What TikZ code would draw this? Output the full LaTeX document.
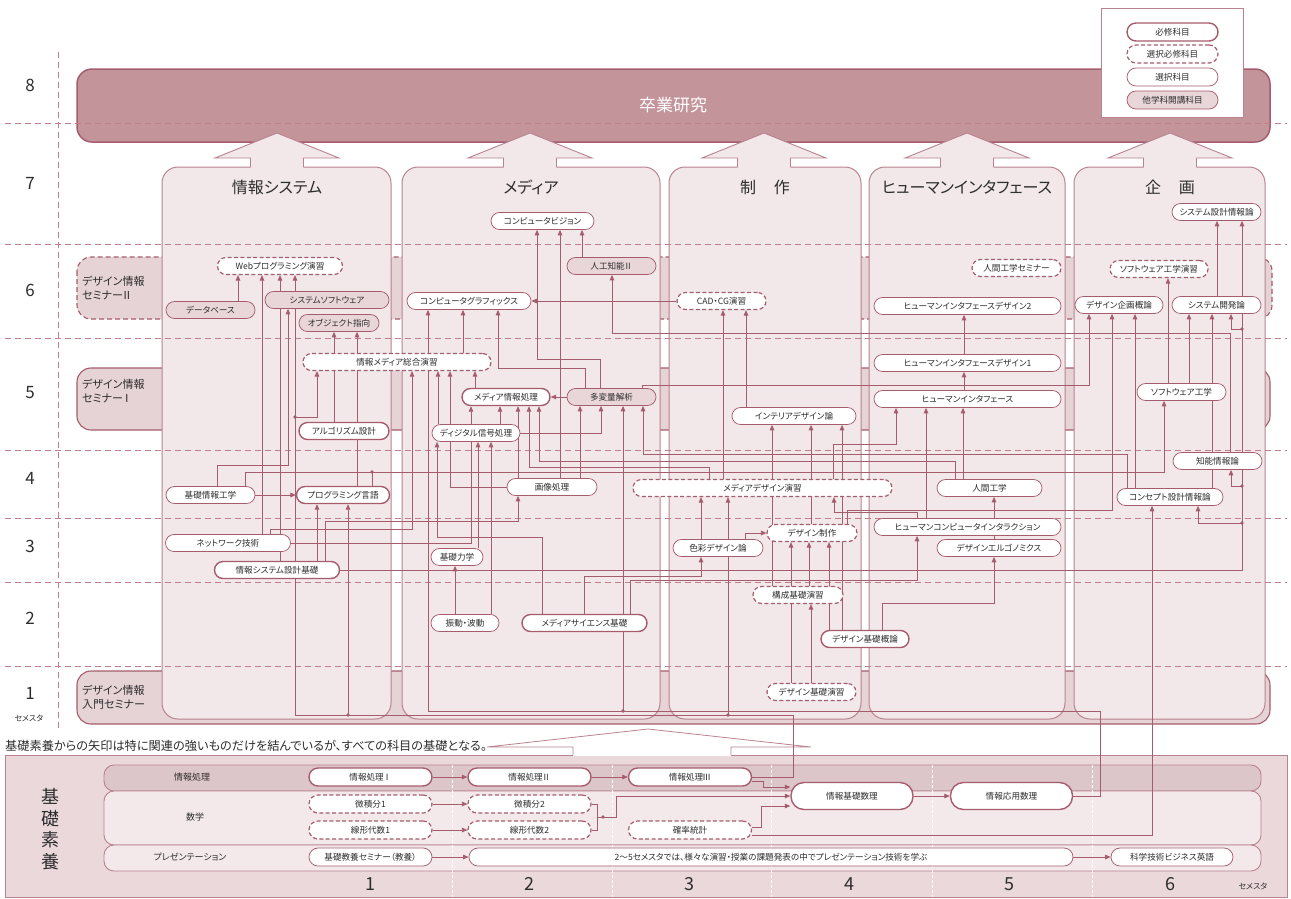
\documentclass[tikz,border=0pt]{standalone}
\usepackage{fontspec}
\setmainfont[RawFeature=+palt]{Noto Sans CJK JP}
\usetikzlibrary{arrows.meta}
\definecolor{rose}{RGB}{165,92,108}
\definecolor{pborder}{RGB}{185,130,142}
\definecolor{pfill}{RGB}{242,232,234}
\definecolor{bandfill}{RGB}{230,211,214}
\definecolor{gradfill}{RGB}{195,149,155}
\definecolor{othfill}{RGB}{233,214,217}
\definecolor{basefill}{RGB}{234,216,219}
\definecolor{rowa}{RGB}{221,198,202}
\definecolor{rowb}{RGB}{243,233,235}
\definecolor{txt}{RGB}{45,45,45}
\definecolor{gridc}{RGB}{192,125,140}
\pgfdeclarelayer{bg}\pgfdeclarelayer{mid}\pgfdeclarelayer{fg}
\pgfsetlayers{bg,mid,main,fg}
\begin{document}
\begin{tikzpicture}[x=1pt,y=-1pt,
  crs/.style={rectangle, rounded corners=8.5pt, minimum height=17pt, inner sep=0pt, font=\fontsize{8.6}{9.5}\selectfont, text=txt, fill=white, draw=rose},
  req/.style={crs, line width=1.4pt},
  sel/.style={crs, line width=0.75pt},
  selreq/.style={crs, line width=1.2pt, dash pattern=on 4pt off 2.4pt},
  oth/.style={crs, line width=0.75pt, fill=othfill},
  bcrs/.style={minimum height=18pt, rounded corners=9pt},
  ln/.style={draw=rose, line width=0.8pt},
  ar/.style={ln, -{Triangle[length=5.5pt,width=4.6pt]}},
  gridln/.style={draw=gridc, line width=0.9pt, dash pattern=on 6pt off 4pt},
  semno/.style={font=\fontsize{17}{17}\selectfont, text=txt},
  ttl/.style={font=\fontsize{16}{16}\selectfont, text=txt},
  bandlbl/.style={font=\fontsize{11}{14}\selectfont, text=txt, align=left, anchor=west, inner sep=0pt},
  rowlbl/.style={font=\fontsize{9}{10}\selectfont, text=txt},
]
\useasboundingbox (0,0) rectangle (1291,898);

% ---------------- background layer ----------------
\begin{pgfonlayer}{bg}
\draw[rose, fill=bandfill, line width=1.1pt, dash pattern=on 5pt off 3pt, rounded corners=14pt] (77,257) rectangle (1272,319);
\draw[rose, fill=bandfill, line width=1.1pt, rounded corners=14pt] (77,368) rectangle (1270,430);
\draw[rose, fill=bandfill, line width=1.1pt, rounded corners=14pt] (77,671) rectangle (1270,724);
\draw[rose, fill=gradfill, line width=1.5pt, rounded corners=15pt] (77,69) rectangle (1270,142);
\foreach \xa/\xb in {162/391, 402/660, 669/861, 869/1065, 1074/1265}
  \draw[pborder, fill=pfill, line width=1pt, rounded corners=16pt] (\xa,167) rectangle (\xb,719);
\foreach \cx in {277,530,764,967,1170}{
  \fill[pfill] (\cx-26.5,168) -- (\cx-26.5,158) -- (\cx-62,158) -- (\cx,133) -- (\cx+62,158) -- (\cx+26.5,158) -- (\cx+26.5,168) -- cycle;
  \draw[pborder, line width=0.9pt] (\cx-26.5,167) -- (\cx-26.5,158) -- (\cx-62,158) -- (\cx,133) -- (\cx+62,158) -- (\cx+26.5,158) -- (\cx+26.5,167);
}
\draw[pborder, fill=basefill, line width=1pt] (5,755) rectangle (1287,897);
\draw[pborder, fill=rowa, line width=0.9pt, rounded corners=10pt] (104,765) rectangle (1261,791);
\draw[pborder, fill=rowb, line width=0.9pt, rounded corners=10pt] (104,791) rectangle (1261,845);
\draw[pborder, fill=rowb, line width=0.9pt, rounded corners=10pt] (104,845) rectangle (1261,871);
\foreach \xx in {452,612,771,932,1092}
  \draw[white, line width=0.7pt, dash pattern=on 3pt off 2pt] (\xx,765) -- (\xx,897);
\fill[white] (487,747) -- (648,729) -- (811,747) -- (731,747) -- (731,756) -- (573,756) -- (573,747) -- cycle;
\draw[pborder, line width=0.8pt] (573,755) -- (573,747) -- (487,747) -- (648,729) -- (811,747) -- (731,747) -- (731,755);
\foreach \yy in {123,244,338,450,518,582,666}
  \draw[gridln] (5,\yy) -- (1287,\yy);
\draw[gridln] (58,52) -- (58,728);
\end{pgfonlayer}

% ---------------- labels ----------------
\node[semno] (s8) at (30,85) {8};
\node[semno] (s7) at (30,183) {7};
\node[semno] (s6) at (30,290) {6};
\node[semno] (s5) at (30,393) {5};
\node[semno] (s4) at (30,478) {4};
\node[semno] (s3) at (30,546) {3};
\node[semno] (s2) at (30,618) {2};
\node[semno] (s1) at (30,693) {1};
\node[font=\fontsize{8}{9}\selectfont, text=txt] (sem) at (29,718) {セメスタ};

\node[font=\fontsize{17}{17}\selectfont, text=white] (grad) at (673,105) {卒業研究};

\node[ttl] (t1) at (277,187) {情報システム};
\node[ttl] (t2) at (531,187) {メディア};
\node[ttl] (t3) at (765,187) {制\hspace{1.1em}作};
\node[ttl] (t4) at (967,187) {ヒューマンインタフェース};
\node[ttl] (t5) at (1170,187) {企\hspace{1.1em}画};

\node[bandlbl] (b2) at (82,288) {デザイン情報\\セミナー\kern-0.15emⅡ};
\node[bandlbl] (b1) at (82,391) {デザイン情報\\セミナー\kern-0.15emⅠ};
\node[bandlbl] (b0) at (82,697) {デザイン情報\\入門セミナー};

% ---------------- course nodes ----------------
\node[selreq, minimum width=125pt] (web) at (280,266) {Webプログラミング演習};
\node[oth, minimum width=89pt] (db) at (210.5,310) {データベース};
\node[oth, minimum width=124pt] (sysw) at (327,300) {システムソフトウェア};
\node[oth, minimum width=80pt] (obj) at (339,323) {オブジェクト指向};
\node[selreq, minimum width=188pt] (imx) at (397,362) {情報メディア総合演習};
\node[req, minimum width=90pt] (algo) at (344,431) {アルゴリズム設計};
\node[sel, minimum width=89pt] (kiso) at (210.5,495) {基礎情報工学};
\node[req, minimum width=93pt] (prog) at (343,495) {プログラミング言語};
\node[sel, minimum width=125pt] (net) at (228,543) {ネットワーク技術};
\node[req, minimum width=125pt] (isd) at (277,570) {情報システム設計基礎};
\node[sel, minimum width=103pt] (cv) at (542.5,221) {コンピュータビジョン};
\node[oth, minimum width=89pt] (ai2) at (611.5,266) {人工知能\kern-0.1emⅡ};
\node[sel, minimum width=124pt] (cg) at (469,301) {コンピュータグラフィックス};
\node[req, minimum width=88pt] (mip) at (506,397) {メディア情報処理};
\node[oth, minimum width=89pt] (mva) at (611.5,397) {多変量解析};
\node[sel, minimum width=88pt] (dsp) at (476,433) {ディジタル信号処理};
\node[sel, minimum width=90pt] (imgp) at (552,487) {画像処理};
\node[sel, minimum width=52pt] (mech) at (457,557) {基礎力学};
\node[sel, minimum width=68pt] (vib) at (465,623) {振動・波動};
\node[req, minimum width=125pt] (msb) at (584.5,623) {メディアサイエンス基礎};
\node[selreq, minimum width=89pt] (cad) at (721.5,301) {CAD・CG演習};
\node[sel, minimum width=124pt] (intd) at (794,416) {インテリアデザイン論};
\node[selreq, minimum width=259pt] (mde) at (762.5,488) {メディアデザイン演習};
\node[selreq, minimum width=90pt] (dpr) at (812,533) {デザイン制作};
\node[sel, minimum width=90pt] (color) at (718,548) {色彩デザイン論};
\node[selreq, minimum width=90pt] (kosei) at (798,595) {構成基礎演習};
\node[req, minimum width=88pt] (dbg) at (865,639) {デザイン基礎概論};
\node[selreq, minimum width=89pt] (dbe) at (811.5,692) {デザイン基礎演習};
\node[selreq, minimum width=89pt] (hes) at (1016.5,268) {人間工学セミナー};
\node[sel, minimum width=187pt] (hid2) at (967.5,306) {ヒューマンインタフェースデザイン2};
\node[sel, minimum width=187pt] (hid1) at (967.5,363) {ヒューマンインタフェースデザイン1};
\node[sel, minimum width=187pt] (hi) at (967.5,399) {ヒューマンインタフェース};
\node[sel, minimum width=105pt] (ergo) at (989.5,488) {人間工学};
\node[sel, minimum width=187pt] (hci) at (967.5,527) {ヒューマンコンピュータインタラクション};
\node[sel, minimum width=124pt] (degr) at (999,548) {デザインエルゴノミクス};
\node[sel, minimum width=89pt] (ssi) at (1216.5,212) {システム設計情報論};
\node[selreq, minimum width=98pt] (swe) at (1159,269) {ソフトウェア工学演習};
\node[sel, minimum width=88pt] (dpo) at (1119,305) {デザイン企画概論};
\node[sel, minimum width=89pt] (sdev) at (1216.5,305) {システム開発論};
\node[sel, minimum width=89pt] (sweng) at (1181.5,392) {ソフトウェア工学};
\node[sel, minimum width=89pt] (ii) at (1217.5,461) {知能情報論};
\node[sel, minimum width=106pt] (cdi) at (1170,497) {コンセプト設計情報論};

% ---------------- basic education ----------------
\node[font=\fontsize{12.2}{13}\selectfont, text=txt, anchor=west, inner sep=0pt] (note) at (5,746) {基礎素養からの矢印は特に関連の強いものだけを結んでいるが、すべての科目の基礎となる。};
\node[font=\fontsize{18}{21.5}\selectfont, text=txt, align=center] (kiso4) at (50,829) {基\\礎\\素\\養};
\node[rowlbl] (r1) at (192,777) {情報処理};
\node[rowlbl] (r2) at (195,817) {数学};
\node[rowlbl] (r3) at (190,857) {プレゼンテーション};
\node[req, bcrs, minimum width=123pt] (ip1) at (370.5,777) {情報処理\kern-0.1emⅠ};
\node[req, bcrs, minimum width=123pt] (ip2) at (529.5,777) {情報処理\kern-0.1emⅡ};
\node[req, bcrs, minimum width=123pt] (ip3) at (690,777) {情報処理\kern-0.1emⅢ};
\node[selreq, bcrs, minimum width=123pt] (cal1) at (370.5,804) {微積分1};
\node[selreq, bcrs, minimum width=123pt] (cal2) at (529.5,804) {微積分2};
\node[selreq, bcrs, minimum width=123pt] (la1) at (370.5,830) {線形代数1};
\node[selreq, bcrs, minimum width=123pt] (la2) at (529.5,830) {線形代数2};
\node[selreq, bcrs, minimum width=123pt] (prob) at (690,830) {確率統計};
\node[req, minimum width=122pt, minimum height=27pt, rounded corners=13pt] (ifm) at (852,796) {情報基礎数理};
\node[req, minimum width=122pt, minimum height=27pt, rounded corners=13pt] (iam) at (1011.5,796) {情報応用数理};
\node[sel, bcrs, minimum width=123pt] (semi) at (370.5,857) {基礎教養セミナー（教養）};
\node[sel, bcrs, minimum width=604pt] (pres) at (771,857) {2〜5セメスタでは、様々な演習・授業の課題発表の中でプレゼンテーション技術を学ぶ};
\node[sel, bcrs, minimum width=122pt] (eng) at (1172,857) {科学技術ビジネス英語};
\node[font=\fontsize{18}{18}\selectfont, text=txt] (n1) at (370,884) {1};
\node[font=\fontsize{18}{18}\selectfont, text=txt] (n2) at (529,884) {2};
\node[font=\fontsize{18}{18}\selectfont, text=txt] (n3) at (689,884) {3};
\node[font=\fontsize{18}{18}\selectfont, text=txt] (n4) at (849,884) {4};
\node[font=\fontsize{18}{18}\selectfont, text=txt] (n5) at (1009,884) {5};
\node[font=\fontsize{18}{18}\selectfont, text=txt] (n6) at (1170,884) {6};
\node[font=\fontsize{8}{9}\selectfont, text=txt] (semb) at (1253,886) {セメスタ};

% ---------------- connectors ----------------
\begin{pgfonlayer}{mid}
\draw[ar] (ip1.east) -- (ip2.west);
\draw[ar] (ip2.east) -- (ip3.west);
\draw[ar] (cal1.east) -- (cal2.west);
\draw[ar] (la1.east) -- (la2.west);
\draw[ar] (semi.east) -- (pres.west);
\draw[ar] (pres.east) -- (eng.west);
\draw[ar] (ifm.east) -- (iam.west);
\draw[ln] (cal2.east) -| (597,817);
\draw[ln] (la2.east) -| (597,817);
\draw[ar] (597,817) -- (616,817) |- (ifm.west);
\draw[ar] ([yshift=-4pt]ip3.east) -- ++(11,0) |- ([yshift=9pt]ifm.west);
\draw[ar] ([yshift=3pt]prob.east) -- ++(9,0) |- ([yshift=-10pt]ifm.west);
\draw[ar] ([yshift=-5pt]prob.east) -| (1152,0 |- cdi.south);
\draw[ar] (ip3.east) -| (793,715) -| (295,0 |- web.south);
\draw[ar] (348,715) -- (348,0 |- prog.south);
\draw[ar] (728,715) -- (728,0 |- mde.south);
\draw[ar] (295,417) -| (317,0 |- imx.south);
\draw[ar] (iam.east) -| (1100,711) -| (428,0 |- cg.south);
\draw[ar] (623,711) -- (623,0 |- mva.south);
\draw[ar] (238,0 |- db.north) -- (238,0 |- web.south);
\draw[ar] (262,0 |- net.north) -- (262,0 |- web.south);
\draw[ar] (280,0 |- isd.north) -- (280,0 |- web.south);
\draw[ar] (217,0 |- kiso.north) |- (288,465) -- (288,0 |- sysw.south);
\draw[ar] (245,0 |- kiso.north) |- (1164,472) -- (1164,0 |- sweng.south);
\draw[ln] (372,0 |- prog.north) -- (372,472);
\draw[ar] (kiso.east) -- (prog.west);
\draw[ar] (317,0 |- isd.north) -- (317,0 |- prog.south);
\draw[ar] (325,0 |- isd.north) |- (518,521) -- (518,0 |- imgp.south);
\draw[ar] (270,0 |- net.north) |- (412,529) -- (412,0 |- imx.south);
\draw[ar] (net.east) -| (471,0 |- mip.south);
\draw[ar] (isd.east) -| (1242,0 |- ssi.south);
\draw[ar] (1242,523) -| (1198,0 |- cdi.south);
\draw[ar] (1242,486) -| (1231,0 |- ii.south);
\draw[ar] (1242,329) -| (1231,0 |- sdev.south);
\draw[ar] (334,0 |- algo.north) -- (334,0 |- obj.south);
\draw[ar] (357,0 |- prog.north) -- (357,0 |- obj.south);
\draw[ar] (438,0 |- dsp.north) -- (438,0 |- imx.south);
\draw[ar] (imgp.west) -| (450,0 |- imx.south);
\draw[ar] (475,0 |- mip.north) -- (475,0 |- imx.south);
\draw[ar] (542,0 |- msb.north) |- (437,537) -- (437,0 |- dsp.south);
\draw[ar] (478,0 |- mech.north) -- (478,0 |- dsp.south);
\draw[ar] (491,0 |- vib.north) -- (491,0 |- dsp.south);
\draw[ar] (455,0 |- vib.north) -- (455,0 |- mech.south);
\draw[ar] (500,0 |- dsp.north) -- (500,0 |- mip.south);
\draw[ar] (518,0 |- imgp.north) -- (518,0 |- mip.south);
\draw[ar] (709,0 |- mde.north) |- (529,467) -- (529,0 |- mip.south);
\draw[ar] (955,0 |- ergo.north) |- (539,461) -- (539,0 |- mip.south);
\draw[ar] (mva.west) -- (mip.east);
\draw[ar] (560,0 |- imgp.north) -- (560,0 |- cv.south);
\draw[ar] (580,0 |- imgp.north) -- (580,0 |- mva.south);
\draw[ar] (dsp.east) -| (601,0 |- mva.south);
\draw[ar] (1127,0 |- cdi.north) |- (643,454) -- (643,0 |- mva.south);
\draw[ar] (585,0 |- mva.north) |- (498,368) -- (498,0 |- cg.south);
\draw[ar] (600,0 |- mva.north) |- (537,359) -- (537,0 |- cv.south);
\draw[ar] (582,0 |- ai2.north) -- (582,0 |- cv.south);
\draw[ar] (1230,0 |- ii.north) |- (612,333) -- (612,0 |- ai2.south);
\draw[ar] (463,0 |- imx.north) -- (463,0 |- cg.south);
\draw[ar] (cad.west) -- (cg.east);
\draw[ar] (642,0 |- mva.north) |- (1089,385) -- (1089,0 |- dpo.south);
\draw[ar] (584,0 |- msb.north) |- (701,576) -- (701,0 |- color.south);
\draw[ar] (630,0 |- msb.north) |- (917,580) -- (917,0 |- hci.south);
\draw[ar] (723,0 |- mde.north) -- (723,0 |- cad.south);
\draw[ar] (746,0 |- intd.north) -- (746,0 |- cad.south);
\draw[ar] (772,0 |- kosei.north) -- (772,0 |- intd.south);
\draw[ar] (811,0 |- dpr.north) -- (811,0 |- intd.south);
\draw[ar] (842,0 |- dbg.north) -- (842,0 |- intd.south);
\draw[ar] (833,0 |- mde.north) |- (896,444) -- (896,0 |- hi.south);
\draw[ar] (701,0 |- color.north) -- (701,0 |- mde.south);
\draw[ar] (745,0 |- color.north) |- (dpr.west);
\draw[ar] (917,0 |- hci.north) |- (834,512) -- (834,0 |- mde.south);
\draw[ar] (791,0 |- dbe.north) -- (791,0 |- dpr.south);
\draw[ar] (811,0 |- dbe.north) -- (811,0 |- kosei.south);
\draw[ar] (809,0 |- kosei.north) -- (809,0 |- dpr.south);
\draw[ar] (829,0 |- dbg.north) -- (829,0 |- dpr.south);
\draw[ar] (882,0 |- dbg.north) |- (994,603) -- (994,0 |- degr.south);
\draw[ar] (994,0 |- degr.north) -- (994,0 |- ergo.south);
\draw[ar] (963,0 |- ergo.north) -- (963,0 |- hi.south);
\draw[ar] (926,0 |- hci.north) -- (926,0 |- hi.south);
\draw[ar] (964,0 |- hi.north) -- (964,0 |- hid1.south);
\draw[ar] (964,0 |- hid1.north) -- (964,0 |- hid2.south);
\draw[ar] (847,0 |- dpr.north) |- (1112,510) -- (1112,0 |- dpo.south);
\draw[ar] (1135,0 |- cdi.north) -- (1135,0 |- dpo.south);
\draw[ar] (1168,0 |- sweng.north) -- (1168,0 |- swe.south);
\draw[ar] (1189,0 |- sweng.north) -- (1189,0 |- sdev.south);
\draw[ar] (1212,0 |- cdi.north) -- (1212,0 |- sdev.south);
\draw[ar] (1217,0 |- sdev.north) -- (1217,0 |- ssi.south);
\foreach \p in {(295,417),(372,472),(348,715),(728,715),(623,711),(603,817),(1242,523),(1242,486),(1242,329)}
  \fill[rose] \p circle (1.9);
\end{pgfonlayer}

% ---------------- legend ----------------
\begin{pgfonlayer}{fg}
\draw[pborder, fill=white, line width=0.8pt] (1101,8) rectangle (1243,117);
\node[req, bcrs, minimum width=91pt] (lg1) at (1172.5,32) {必修科目};
\node[selreq, bcrs, minimum width=91pt] (lg2) at (1172.5,54) {選択必修科目};
\node[sel, bcrs, minimum width=91pt] (lg3) at (1172.5,77) {選択科目};
\node[oth, bcrs, minimum width=91pt] (lg4) at (1172.5,100) {他学科開講科目};
\end{pgfonlayer}
\end{tikzpicture}
\end{document}
